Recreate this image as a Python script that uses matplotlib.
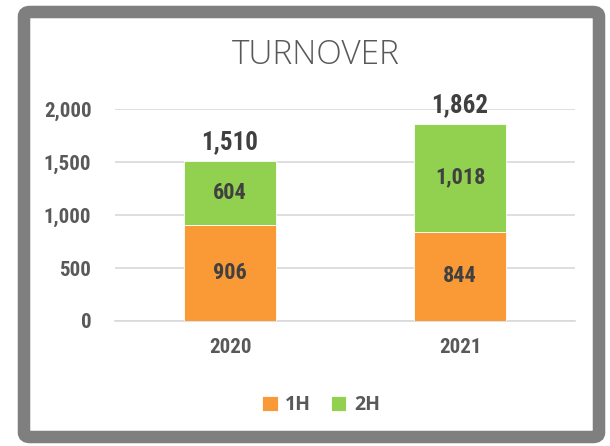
import matplotlib
matplotlib.use("Agg")
import matplotlib.pyplot as plt
from matplotlib.patches import FancyBboxPatch
from matplotlib import font_manager
import numpy as np

years = ["2020", "2021"]
h1 = [906, 844]
h2 = [604, 1018]
yticks = [0, 500, 1000, 1500, 2000]
ytick_labels = ["0", "500", "1,000", "1,500", "2,000"]
title = "TURNOVER"

names = {f.name for f in font_manager.fontManager.ttflist}
font = "Liberation Sans"
for cand in ["Liberation Sans Narrow", "Arial Narrow", "Roboto Condensed",
             "Archivo Narrow", "PT Sans Narrow"]:
    if cand in names:
        font = cand
        break
narrow = font != "Liberation Sans"

W, H = 610, 446
fig = plt.figure(figsize=(W / 100, H / 100), dpi=100)

# gray frame
frame = FancyBboxPatch((24 / W, 9 / H), 575 / W, 425 / H,
                       boxstyle="round,pad=0,rounding_size=0.01",
                       transform=fig.transFigure, facecolor="white",
                       edgecolor="#7F7F7F", linewidth=9, zorder=-10)
fig.patches.append(frame)

ax = fig.add_axes([115 / W, 1 - 321 / H, 460 / W, 212 / H])
ax.set_facecolor("none")
x = np.arange(len(years))
orange = "#FA9A37"
green = "#92D050"
b1 = ax.bar(x, h1, width=0.4, color=orange, edgecolor="white", linewidth=0.6, zorder=3, label="1H")
b2 = ax.bar(x, h2, width=0.4, bottom=h1, color=green, edgecolor="white", linewidth=0.6, zorder=3, label="2H")

fs_in = 16 if narrow else 14
fs_tot = 18 if narrow else 15.5
fs_tick = 15 if narrow else 14
txtc = "#404040"
for i in range(len(years)):
    ax.text(x[i], h1[i] / 2, f"{h1[i]:,}", ha="center", va="center",
            fontsize=fs_in, fontweight="bold", color=txtc, family=font, zorder=4)
    ax.text(x[i], h1[i] + h2[i] / 2, f"{h2[i]:,}", ha="center", va="center",
            fontsize=fs_in, fontweight="bold", color=txtc, family=font, zorder=4)
    tot = h1[i] + h2[i]
    ax.text(x[i], tot + 60, f"{tot:,}", ha="center", va="bottom",
            fontsize=fs_tot, fontweight="bold", color=txtc, family=font, zorder=4)

ax.set_xlim(-0.5, 1.5)
ax.set_ylim(0, 2000)
ax.set_yticks(yticks)
ax.set_yticklabels(ytick_labels)
ax.set_xticks(x)
ax.set_xticklabels(years)
for lab in ax.get_yticklabels() + ax.get_xticklabels():
    lab.set_fontsize(fs_tick)
    lab.set_fontweight("bold")
    lab.set_color("#595959")
    lab.set_family(font)
ax.tick_params(axis="both", length=0)
ax.tick_params(axis="y", pad=17)
ax.tick_params(axis="x", pad=12)
ax.yaxis.grid(True, color="#D9D9D9", linewidth=1.2, zorder=0)
ax.set_axisbelow(True)
for s in ax.spines.values():
    s.set_visible(False)
ax.spines["bottom"].set_visible(True)
ax.spines["bottom"].set_color("#D9D9D9")
ax.spines["bottom"].set_linewidth(1.2)

fig.text(316 / W, 1 - 55 / H, title, ha="center", va="center", fontsize=24,
         color="#595959", family="Open Sans", fontweight="light")

leg = fig.legend(handles=[b1, b2], labels=["1H", "2H"], loc="center",
                 bbox_to_anchor=(321 / W, 1 - 405 / H), ncol=2, frameon=False,
                 handlelength=0.8, handleheight=0.8, handletextpad=0.4,
                 columnspacing=1.0,
                 prop={"family": "Open Sans", "weight": "bold", "size": 14})
for t in leg.get_texts():
    t.set_color("#595959")

fig.savefig("out.png", dpi=100)
